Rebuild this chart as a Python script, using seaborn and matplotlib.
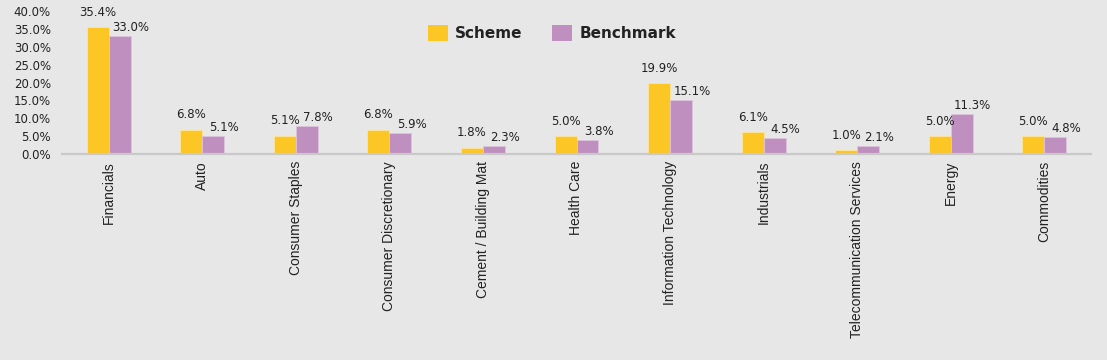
import matplotlib
matplotlib.use("Agg")
import matplotlib.pyplot as plt
import seaborn as sns
import pandas as pd
import numpy as np
from matplotlib.ticker import FuncFormatter, FixedLocator

categories = ["Financials", "Auto", "Consumer Staples", "Consumer Discretionary",
              "Cement / Building Mat", "Health Care", "Information Technology",
              "Industrials", "Telecommunication Services", "Energy", "Commodities"]
scheme = [35.4, 6.8, 5.1, 6.8, 1.8, 5.0, 19.9, 6.1, 1.0, 5.0, 5.0]
benchmark = [33.0, 5.1, 7.8, 5.9, 2.3, 3.8, 15.1, 4.5, 2.1, 11.3, 4.8]
series_names = ["Scheme", "Benchmark"]
yticks = [0, 5, 10, 15, 20, 25, 30, 35, 40]

BG = "#e7e7e8"
colors = ["#fcc624", "#bf8fc0"]

sns.set_theme(style="white")
plt.rcParams['font.family'] = ['DejaVu Sans']

df = pd.DataFrame({
    "Sector": categories * 2,
    "Series": [series_names[0]] * len(categories) + [series_names[1]] * len(categories),
    "Value": scheme + benchmark,
})

fig = plt.figure(figsize=(11.07, 3.6), dpi=100)
fig.patch.set_facecolor(BG)
ax = fig.add_axes([62/1107, 206/360, (1091-62)/1107, (154-11)/360])
ax.set_facecolor(BG)

sns.barplot(data=df, x="Sector", y="Value", hue="Series", order=categories,
            hue_order=series_names, palette=colors, width=0.47, gap=0,
            saturation=1, linewidth=0.6, ax=ax, legend=True)

for cont, ec in zip(ax.containers, ["#fde59a", "#dcc4dc"]):
    for p in cont.patches:
        p.set_edgecolor(ec)

ax.set_ylim(0, 40)
ax.set_xlim(-0.5, len(categories) - 0.5)
ax.yaxis.set_major_locator(FixedLocator(yticks))
ax.yaxis.set_major_formatter(FuncFormatter(lambda v, p: f"{v:.1f}%"))
ax.tick_params(axis="y", length=0, labelsize=8.5, colors="#222222", pad=8)
ax.set_xlabel("")
ax.set_ylabel("")

ax.set_xticks(range(len(categories)))
ax.set_xticklabels(categories, rotation=90, fontsize=10, family="Liberation Sans", color="#222222")
ax.tick_params(axis="x", which="major", length=0, pad=5)
ax.set_xticks(np.arange(-0.5, len(categories), 1.0), minor=True)
ax.tick_params(axis="x", which="minor", length=4, width=1.2, color="#c9c9c9", direction="out")

for s in ["top", "right", "left"]:
    ax.spines[s].set_visible(False)
ax.spines["bottom"].set_color("#c9c9c9")
ax.spines["bottom"].set_linewidth(1.6)

offs = [(0, 6), (8, 1.5)]
for cont, (dx, dy) in zip(ax.containers, offs):
    for p in cont.patches:
        h = p.get_height()
        ax.annotate(f"{h:.1f}%", (p.get_x() + p.get_width() / 2, h),
                    xytext=(dx, dy), textcoords="offset points",
                    ha="center", va="bottom", fontsize=8.5, color="#222222")

leg = ax.legend(loc="upper center", bbox_to_anchor=(0.476, 1.0), ncol=2, frameon=False,
                handlelength=1.3, handleheight=1.3, handletextpad=0.5, columnspacing=1.9,
                prop={"size": 11, "weight": "semibold"})
for t in leg.get_texts():
    t.set_color("#222222")
for h in leg.legend_handles:
    h.set_edgecolor("none")

fig.savefig("out.png", dpi=100, facecolor=BG)
